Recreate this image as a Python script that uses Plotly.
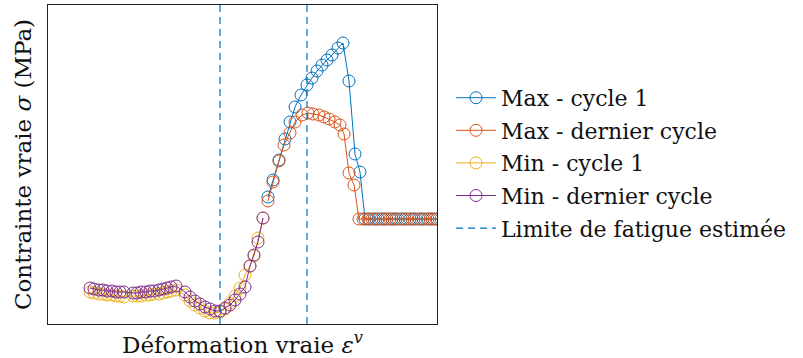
import plotly.graph_objects as go

# Values (arbitrary units: strain x, stress y)
min_x = [42, 46, 51, 55, 59, 64, 68, 72, 76,
         85, 89, 93, 98, 102, 106, 111, 115, 119, 123, 128,
         137, 142, 147, 152, 157, 162, 167, 172, 177, 182, 187, 192, 197, 202, 206, 210, 215]
min_dernier_y = [36, 35, 34, 34, 33, 33, 32, 32, 32,
                 31, 31, 32, 32, 33, 33, 34, 35, 36, 37, 38,
                 32, 27, 23, 20, 17, 15, 13, 13, 16, 19, 24, 30, 37, 58, 69, 82, 106]
min_cycle1_y = [32, 31, 30, 30, 29, 29, 28, 28, 27,
                28, 28, 28, 29, 29, 30, 30, 31, 32, 33, 34,
                29, 23, 19, 16, 13, 11, 11, 12, 15, 21, 28, 36, 49, 58, 68, 86, 106]

max_c1_x = [220, 225, 231, 237, 242, 247, 253, 259, 264, 269, 274, 279, 284, 290, 295,
            301, 307, 312, 317, 321, 326, 330, 335, 339, 344, 348, 353, 357, 362, 366, 371, 375, 380, 384, 389]
max_c1_y = [127, 144, 164, 185, 202, 217, 229, 239, 246, 253, 259, 264, 269, 276, 281,
            243, 170, 152, 105, 105, 105, 105, 105, 105, 105, 105, 105, 105, 105, 105, 105, 105, 105, 105, 105]

max_der_x = [220, 225, 231, 236, 242, 247, 254, 260, 265, 271, 276, 281, 287, 292, 296,
             301, 306, 311, 315, 320, 324, 328, 333, 337, 342, 346, 350, 355, 359, 364, 368, 373, 377, 382, 386, 389]
max_der_y = [123, 142, 163, 179, 191, 202, 209, 211, 210, 209, 207, 205, 202, 199, 190,
             151, 139, 105, 105, 105, 105, 105, 105, 105, 105, 105, 105, 105, 105, 105, 105, 105, 105, 105, 105, 105]

limite_x = [172, 259]
y_range = [0, 319]
x_range = [0, 389]

names = ["Max - cycle 1", "Max - dernier cycle", "Min - cycle 1", "Min - dernier cycle",
         "Limite de fatigue estimée"]
colors = ["#0072BD", "#D95319", "#EDB120", "#7E2F8E"]

FONT = "DejaVu Serif"

fig = go.Figure()
series = [(max_c1_x, max_c1_y), (max_der_x, max_der_y), (min_x, min_cycle1_y), (min_x, min_dernier_y)]
for i in range(4):
    xs, ys = series[i]
    fig.add_trace(go.Scatter(
        x=xs, y=ys, mode="lines+markers", name=names[i], legendgroup=f"g{i}",
        line=dict(color=colors[i], width=1),
        marker=dict(symbol="circle-open", size=12, color=colors[i], line=dict(width=1, color=colors[i])),
        legendrank=i + 1,
    ))

lx, ly = [], []
for v in limite_x:
    lx += [v, v, None]
    ly += [y_range[0], y_range[1], None]
fig.add_trace(go.Scatter(x=lx, y=ly, mode="lines", name=names[4], legendgroup="g4",
                         line=dict(color="#0072BD", width=1.2, dash="7px,5px"), legendrank=5))

fig.update_layout(
    width=803, height=358,
    margin=dict(l=48, r=366, t=5, b=34, autoexpand=False),
    paper_bgcolor="white", plot_bgcolor="white",
    font=dict(family=FONT, size=22, color="#111"),
    showlegend=True,
    legend=dict(x=1.036, xanchor="left", y=0.505, yanchor="middle",
                font=dict(size=22), tracegroupgap=1, itemwidth=40,
                bgcolor="rgba(0,0,0,0)"),
)
fig.update_xaxes(range=x_range, showticklabels=False, ticks="", showgrid=False, zeroline=False,
                 showline=True, mirror=True, linecolor="#222", linewidth=1,
                 title=dict(text="Déformation vraie <i>ε</i><sup><i>v</i></sup>", standoff=12, font=dict(size=23)))
fig.update_yaxes(range=y_range, showticklabels=False, ticks="", showgrid=False, zeroline=False,
                 showline=True, mirror=True, linecolor="#222", linewidth=1,
                 title=dict(text="Contrainte vraie <i>σ</i> (MPa)", standoff=8, font=dict(size=23)))

fig.write_html("out.html", config={"displayModeBar": False},
               post_script="document.body.style.margin='0px';")
